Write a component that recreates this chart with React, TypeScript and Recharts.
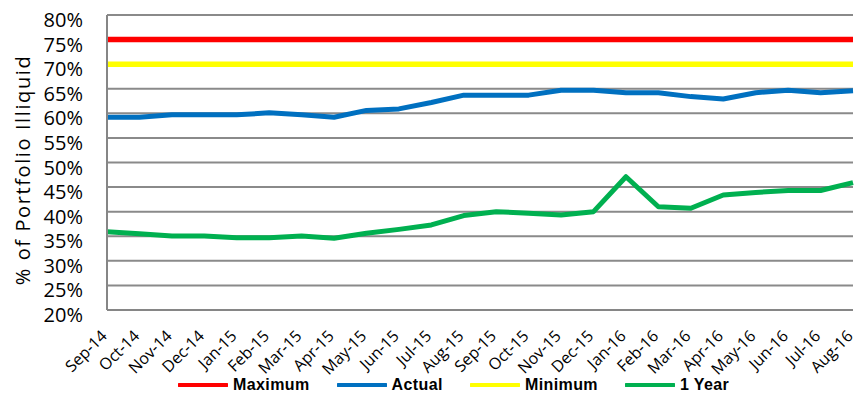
import React from "react";
import { LineChart, Line, XAxis, YAxis, CartesianGrid, Legend } from "recharts";

const months = [
  "Sep-14", "Oct-14", "Nov-14", "Dec-14", "Jan-15", "Feb-15", "Mar-15", "Apr-15",
  "May-15", "Jun-15", "Jul-15", "Aug-15", "Sep-15", "Oct-15", "Nov-15", "Dec-15",
  "Jan-16", "Feb-16", "Mar-16", "Apr-16", "May-16", "Jun-16", "Jul-16", "Aug-16",
];

const maximum = [75, 75, 75, 75, 75, 75, 75, 75, 75, 75, 75, 75, 75, 75, 75, 75, 75, 75, 75, 75, 75, 75, 75, 75];
const actual = [59.2, 59.2, 59.7, 59.7, 59.7, 60.1, 59.7, 59.2, 60.6, 60.9, 62.2, 63.7, 63.7, 63.7, 64.7, 64.7, 64.2, 64.2, 63.4, 62.9, 64.2, 64.7, 64.2, 64.6];
const minimum = [70, 70, 70, 70, 70, 70, 70, 70, 70, 70, 70, 70, 70, 70, 70, 70, 70, 70, 70, 70, 70, 70, 70, 70];
const oneYear = [35.9, 35.5, 35.05, 35.05, 34.7, 34.7, 35.05, 34.6, 35.6, 36.4, 37.3, 39.2, 40.0, 39.7, 39.3, 40.0, 47.1, 41.0, 40.7, 43.4, 43.9, 44.3, 44.3, 45.9];

const yTicks = [20, 25, 30, 35, 40, 45, 50, 55, 60, 65, 70, 75, 80];

const seriesNames = ["Maximum", "Actual", "Minimum", "1 Year"];
const seriesColors = ["#FF0000", "#0070C0", "#FFFF00", "#00B050"];

const data = months.map((m, i) => ({
  month: m,
  Maximum: maximum[i],
  Actual: actual[i],
  Minimum: minimum[i],
  "1 Year": oneYear[i],
}));

const FONT = "'Open Sans', sans-serif";

const XTick = (props: any) => {
  const { x, y, payload } = props;
  const tx = x + 1;
  const ty = y + 27;
  return (
    <text
      x={tx}
      y={ty}
      transform={`rotate(-45, ${tx}, ${ty})`}
      textAnchor="end"
      fontFamily={FONT}
      fontSize={16}
      fill="#000"
    >
      {payload.value}
    </text>
  );
};

const YTick = (props: any) => {
  const { x, y, payload } = props;
  return (
    <text x={x} y={y + 12} textAnchor="end" fontFamily={FONT} fontSize={20} fill="#000">
      {payload.value + "%"}
    </text>
  );
};

const LegendContent = () => (
  <div
    style={{
      display: "flex",
      alignItems: "center",
      height: 20,
      paddingLeft: 178,
      fontFamily: "'Liberation Sans', Arial, sans-serif",
      fontWeight: "bold",
      fontSize: 16,
      color: "#000",
      letterSpacing: 0.4,
      whiteSpace: "nowrap",
    }}
  >
    {seriesNames.map((n, i) => (
      <div key={n} style={{ display: "flex", alignItems: "center", marginRight: 27 }}>
        <svg width={50} height={8} style={{ marginRight: 5 }}>
          <line x1={1} y1={4} x2={49} y2={4} stroke={seriesColors[i]} strokeWidth={4} strokeLinecap="round" />
        </svg>
        <span>{n}</span>
      </div>
    ))}
  </div>
);

export default function App() {
  return (
    <div style={{ position: "absolute", left: 0, top: 0, width: 859, height: 395, background: "#fff" }}>
      <LineChart width={859} height={395} data={data} margin={{ top: 15, right: 6, left: 0, bottom: 0 }}>
        <CartesianGrid vertical={false} stroke="#8a8a8a" strokeWidth={2} />
        <XAxis
          dataKey="month"
          height={65}
          interval={0}
          tickLine={false}
          tickSize={0}
          tickMargin={0}
          axisLine={{ stroke: "#868686", strokeWidth: 2 }}
          tick={<XTick />}
        />
        <YAxis
          width={107}
          domain={[20, 80]}
          ticks={yTicks}
          interval={0}
          tickLine={false}
          tickSize={0}
          tickMargin={24}
          axisLine={{ stroke: "#868686", strokeWidth: 2 }}
          tick={<YTick />}
          label={{
            content: () => (
              <text
                x={30}
                y={170}
                transform="rotate(-90, 30, 170)"
                textAnchor="middle"
                fontFamily={FONT}
                fontSize={20}
                letterSpacing={1.6}
                fill="#000"
              >
                % of Portfolio Illiquid
              </text>
            ),
          }}
        />
        <Legend
          verticalAlign="bottom"
          height={20}
          wrapperStyle={{ left: 0, bottom: 0, width: 859, height: 20 }}
          content={<LegendContent />}
        />
        {seriesNames.map((n, i) => (
          <Line
            key={n}
            type="linear"
            dataKey={n}
            stroke={seriesColors[i]}
            strokeWidth={i === 0 || i === 2 ? 5.5 : 5}
            dot={false}
            activeDot={false}
            isAnimationActive={false}
            strokeLinejoin="round"
          />
        ))}
      </LineChart>
    </div>
  );
}
